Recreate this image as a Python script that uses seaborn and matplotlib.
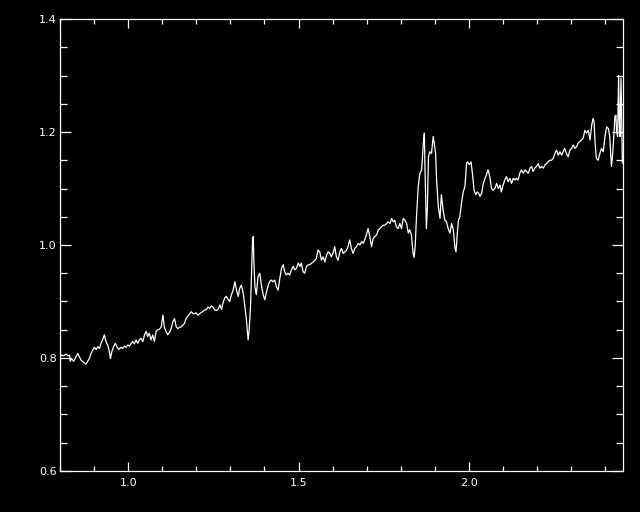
import numpy as np
import pandas as pd
import matplotlib
matplotlib.use("Agg")
import matplotlib.pyplot as plt
import seaborn as sns
from matplotlib.ticker import FixedLocator, MultipleLocator

# --- datos del espectro, en cuatro tramos ---
wave_a = [0.800, 0.803, 0.811, 0.818, 0.823, 0.828, 0.830, 0.834, 0.840, 0.847,
          0.852, 0.857, 0.862, 0.870, 0.876, 0.881, 0.886, 0.891, 0.896, 0.901,
          0.906, 0.911, 0.916, 0.920, 0.925, 0.930, 0.935, 0.940, 0.945, 0.948,
          0.952, 0.957, 0.962, 0.967, 0.972, 0.979, 0.984, 0.989, 0.994, 0.999,
          1.004, 1.009, 1.013, 1.018, 1.023, 1.028, 1.033, 1.038, 1.043, 1.048,
          1.053, 1.057, 1.062, 1.067, 1.072, 1.077, 1.082, 1.087, 1.092, 1.097,
          1.102, 1.106, 1.111, 1.116, 1.121, 1.126, 1.131, 1.136, 1.141, 1.146,
          1.150, 1.155, 1.160, 1.165, 1.170, 1.175, 1.180, 1.185, 1.190, 1.194,
          1.199, 1.204]
flux_a = [0.801, 0.805, 0.804, 0.807, 0.804, 0.805, 0.794, 0.799, 0.794, 0.802,
          0.808, 0.802, 0.796, 0.792, 0.789, 0.794, 0.799, 0.808, 0.814, 0.819,
          0.815, 0.820, 0.817, 0.826, 0.832, 0.841, 0.829, 0.823, 0.811, 0.799,
          0.811, 0.820, 0.826, 0.820, 0.815, 0.819, 0.817, 0.821, 0.819, 0.823,
          0.821, 0.826, 0.829, 0.825, 0.832, 0.826, 0.832, 0.835, 0.829, 0.841,
          0.847, 0.838, 0.844, 0.832, 0.841, 0.829, 0.847, 0.850, 0.851, 0.855,
          0.876, 0.855, 0.847, 0.841, 0.845, 0.852, 0.864, 0.870, 0.855, 0.852,
          0.854, 0.855, 0.858, 0.861, 0.870, 0.874, 0.878, 0.882, 0.879, 0.878,
          0.880, 0.876]

wave_b = [1.225, 1.230, 1.234, 1.239, 1.244, 1.249, 1.254, 1.259, 1.264, 1.269,
          1.274, 1.278, 1.283, 1.288, 1.293, 1.298, 1.303, 1.308, 1.313, 1.318,
          1.323, 1.327, 1.332, 1.337, 1.342, 1.347, 1.352, 1.355, 1.359, 1.362,
          1.365, 1.367, 1.369, 1.372, 1.376, 1.381, 1.386, 1.391, 1.396, 1.401,
          1.406, 1.411, 1.415, 1.420, 1.425, 1.430, 1.435, 1.440, 1.445, 1.450,
          1.455, 1.459, 1.464, 1.469, 1.474, 1.479, 1.484, 1.489, 1.494, 1.499,
          1.504, 1.508, 1.513, 1.518, 1.523, 1.528, 1.533, 1.538, 1.543, 1.548,
          1.552, 1.557, 1.562, 1.567, 1.572, 1.577, 1.582, 1.587, 1.592, 1.596,
          1.601, 1.606, 1.611, 1.616, 1.621, 1.626, 1.631, 1.636, 1.640, 1.645,
          1.650]
flux_b = [0.885, 0.886, 0.890, 0.888, 0.892, 0.890, 0.885, 0.884, 0.886, 0.894,
          0.886, 0.897, 0.906, 0.909, 0.904, 0.900, 0.912, 0.920, 0.935, 0.920,
          0.909, 0.923, 0.929, 0.917, 0.894, 0.867, 0.832, 0.850, 0.891, 0.950,
          1.009, 1.015, 0.968, 0.926, 0.912, 0.944, 0.950, 0.929, 0.912, 0.903,
          0.917, 0.929, 0.935, 0.938, 0.935, 0.938, 0.926, 0.920, 0.941, 0.959,
          0.965, 0.953, 0.947, 0.950, 0.947, 0.956, 0.962, 0.956, 0.959, 0.968,
          0.962, 0.968, 0.953, 0.950, 0.962, 0.965, 0.965, 0.968, 0.970, 0.973,
          0.976, 0.991, 0.988, 0.973, 0.979, 0.970, 0.982, 0.988, 0.985, 0.979,
          0.985, 0.997, 0.979, 0.973, 0.988, 0.994, 0.985, 0.988, 0.990, 0.997,
          1.009]

wave_c = [1.655, 1.660, 1.665, 1.670, 1.675, 1.680, 1.685, 1.690, 1.694, 1.699,
          1.704, 1.709, 1.714, 1.719, 1.724, 1.729, 1.734, 1.738, 1.743, 1.748,
          1.753, 1.758, 1.763, 1.768, 1.773, 1.778, 1.782, 1.787, 1.792, 1.797,
          1.802, 1.807, 1.812, 1.817, 1.822, 1.826, 1.831, 1.836, 1.839, 1.842,
          1.846, 1.851, 1.856, 1.861, 1.866, 1.869, 1.871, 1.875, 1.878, 1.881,
          1.885, 1.890, 1.895, 1.898, 1.902, 1.905, 1.910, 1.915, 1.919, 1.924,
          1.929, 1.934, 1.939, 1.944, 1.949, 1.954, 1.959, 1.962, 1.965, 1.969,
          1.973, 1.978, 1.983, 1.988, 1.993, 1.996, 2.001, 2.006, 2.010, 2.015,
          2.020, 2.024, 2.029]
flux_c = [0.994, 0.985, 0.994, 0.997, 1.003, 1.000, 1.006, 1.003, 1.009, 1.018,
          1.029, 1.015, 0.997, 1.012, 1.015, 1.018, 1.027, 1.029, 1.032, 1.035,
          1.035, 1.038, 1.041, 1.038, 1.047, 1.041, 1.044, 1.032, 1.029, 1.038,
          1.029, 1.047, 1.044, 1.038, 1.021, 1.027, 1.018, 0.985, 0.978, 0.997,
          1.050, 1.103, 1.127, 1.133, 1.180, 1.198, 1.133, 1.029, 1.068, 1.156,
          1.165, 1.162, 1.192, 1.180, 1.162, 1.115, 1.068, 1.047, 1.089, 1.062,
          1.044, 1.041, 1.029, 1.021, 1.038, 1.027, 0.994, 0.988, 1.015, 1.044,
          1.050, 1.074, 1.094, 1.103, 1.145, 1.147, 1.142, 1.147, 1.127, 1.097,
          1.089, 1.094, 1.091]

wave_d = [2.032, 2.037, 2.042, 2.047, 2.051, 2.056, 2.061, 2.066, 2.071, 2.076,
          2.081, 2.086, 2.091, 2.095, 2.100, 2.105, 2.110, 2.115, 2.120, 2.125,
          2.130, 2.135, 2.139, 2.144, 2.149, 2.154, 2.159, 2.164, 2.169, 2.174,
          2.179, 2.184, 2.188, 2.193, 2.198, 2.203, 2.208, 2.213, 2.218, 2.223,
          2.228, 2.232, 2.237, 2.242, 2.247, 2.252, 2.257, 2.262, 2.267, 2.272,
          2.276, 2.281, 2.286, 2.291, 2.296, 2.301, 2.306, 2.311, 2.316, 2.320,
          2.325, 2.330, 2.335, 2.340, 2.345, 2.350, 2.355, 2.360, 2.364, 2.367,
          2.370, 2.374, 2.379, 2.384, 2.389, 2.394, 2.399, 2.404, 2.409, 2.413,
          2.418, 2.421, 2.425, 2.428, 2.431, 2.433, 2.436, 2.439, 2.441, 2.443,
          2.446, 2.448, 2.450]
flux_d = [1.086, 1.091, 1.109, 1.118, 1.124, 1.133, 1.121, 1.100, 1.097, 1.100,
          1.109, 1.100, 1.106, 1.094, 1.106, 1.115, 1.121, 1.112, 1.118, 1.109,
          1.118, 1.115, 1.118, 1.115, 1.127, 1.133, 1.127, 1.133, 1.130, 1.127,
          1.136, 1.139, 1.130, 1.136, 1.139, 1.144, 1.136, 1.139, 1.136, 1.142,
          1.144, 1.147, 1.150, 1.150, 1.153, 1.162, 1.168, 1.159, 1.165, 1.159,
          1.165, 1.171, 1.162, 1.156, 1.168, 1.171, 1.177, 1.171, 1.174, 1.180,
          1.183, 1.186, 1.189, 1.203, 1.198, 1.203, 1.186, 1.212, 1.224, 1.218,
          1.180, 1.153, 1.150, 1.162, 1.171, 1.165, 1.192, 1.209, 1.206, 1.192,
          1.139, 1.156, 1.192, 1.227, 1.230, 1.201, 1.192, 1.300, 1.220, 1.192,
          1.295, 1.230, 1.145]

x_range = (0.8, 2.451)
y_range = (0.6, 1.4)
x_major = [1.0, 1.5, 2.0]

df = pd.DataFrame({
    "wave": wave_a + wave_b + wave_c + wave_d,
    "flux": flux_a + flux_b + flux_c + flux_d,
})

# --- estilo: fondo negro tipo IDL ---
sns.set_style("dark", {"axes.facecolor": "black", "figure.facecolor": "black",
                       "axes.edgecolor": "white", "grid.color": "black"})
plt.rcParams["font.family"] = ["DejaVu Sans"]

fig = plt.figure(figsize=(6.4, 5.12), dpi=100, facecolor="black")
ax = fig.add_axes([60 / 640, 41 / 512, 562.7 / 640, 452 / 512])
ax.set_facecolor("black")

sns.lineplot(data=df, x="wave", y="flux", sort=False, estimator=None,
             color="white", linewidth=0.9, ax=ax)

ax.set_xlim(*x_range)
ax.set_ylim(*y_range)
ax.grid(False)
ax.set_xlabel("")
ax.set_ylabel("")

ax.xaxis.set_major_locator(FixedLocator(x_major))
ax.xaxis.set_minor_locator(MultipleLocator(0.1))
ax.yaxis.set_major_locator(MultipleLocator(0.2))
ax.yaxis.set_minor_locator(MultipleLocator(0.05))

for s in ax.spines.values():
    s.set_color("white")
    s.set_linewidth(0.9)

# marcas hacia dentro en los cuatro lados
ax.tick_params(which="both", direction="in", top=True, right=True,
               bottom=True, left=True,
               color="white", labelcolor="white", labelsize=8, width=0.9)
ax.tick_params(axis="x", which="major", length=6.5, pad=5)
ax.tick_params(axis="x", which="minor", length=3.6)
ax.tick_params(axis="y", which="major", length=8, pad=2.5)
ax.tick_params(axis="y", which="minor", length=4.7)

fig.savefig("out.png", dpi=100, facecolor="black")
